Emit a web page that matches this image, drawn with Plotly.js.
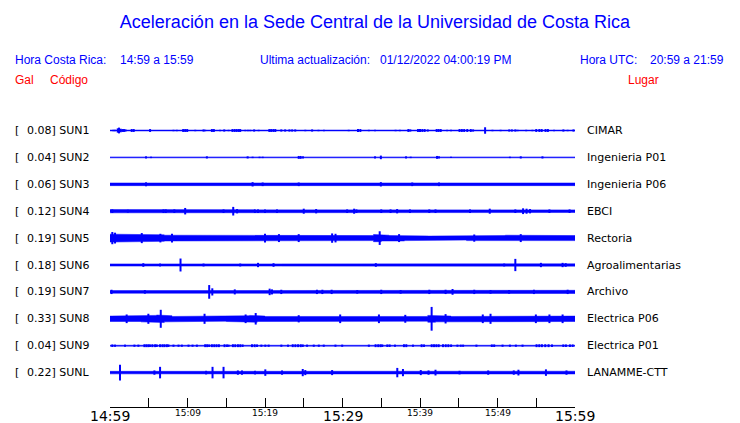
<!DOCTYPE html>
<html>
<head>
<meta charset="utf-8">
<script src="https://cdn.plot.ly/plotly-3.0.1.min.js"></script>
<style>html,body{margin:0;padding:0;background:#fff}#chart{width:740px;height:423px}</style>
</head>
<body>
<div id="chart"></div>
<script>
// ---------------- DATA ----------------
const codes = ["SUN1","SUN2","SUN3","SUN4","SUN5","SUN6","SUN7","SUN8","SUN9","SUNL"];
const places = ["CIMAR","Ingenieria P01","Ingenieria P06","EBCI","Rectoria","Agroalimentarias","Archivo","Electrica P06","Electrica P01","LANAMME-CTT"];
const peakGal = ["0.08","0.04","0.06","0.12","0.19","0.18","0.19","0.33","0.04","0.22"];
const tickMinutes = [0,5,10,15,20,25,30,35,40,45,50,55,60];
const labelMinutes = [0,10,20,30,40,50,60];
const tickLabels = ["14:59","15:09","15:19","15:29","15:39","15:49","15:59"];
const majorLabels = ["14:59","15:29","15:59"];

// background band half-amplitude (Gal), one value per minute
const env_SUN1 = [0.013,0.013,0.013,0.013,0.013,0.013,0.013,0.013,0.013,0.013, 0.013,0.013,0.013,0.013,0.013,0.013,0.013,0.013,0.013,0.013, 0.013,0.013,0.013,0.013,0.013,0.013,0.013,0.013,0.013,0.013, 0.013,0.013,0.013,0.013,0.013,0.013,0.013,0.013,0.013,0.013, 0.013,0.013,0.013,0.013,0.013,0.013,0.013,0.013,0.013,0.013, 0.013,0.013,0.013,0.013,0.013,0.013,0.013,0.013,0.013,0.013];
const env_SUN2 = [0.013,0.013,0.013,0.013,0.013,0.013,0.013,0.013,0.013,0.013, 0.013,0.013,0.013,0.013,0.013,0.013,0.013,0.013,0.013,0.013, 0.013,0.013,0.013,0.013,0.013,0.013,0.013,0.013,0.013,0.013, 0.013,0.013,0.013,0.013,0.013,0.013,0.013,0.013,0.013,0.013, 0.013,0.013,0.013,0.013,0.013,0.013,0.013,0.013,0.013,0.013, 0.013,0.013,0.013,0.013,0.013,0.013,0.013,0.013,0.013,0.013];
const env_SUN3 = [0.037,0.037,0.037,0.037,0.037,0.037,0.037,0.037,0.037,0.037, 0.037,0.037,0.037,0.037,0.037,0.037,0.037,0.037,0.037,0.037, 0.037,0.037,0.037,0.037,0.037,0.037,0.037,0.037,0.037,0.037, 0.037,0.037,0.037,0.037,0.037,0.037,0.037,0.037,0.037,0.037, 0.037,0.037,0.037,0.037,0.037,0.037,0.037,0.037,0.037,0.037, 0.037,0.037,0.037,0.037,0.037,0.037,0.037,0.037,0.037,0.037];
const env_SUN4 = [0.045,0.025,0.025,0.037,0.037,0.037,0.037,0.037,0.037,0.037, 0.037,0.037,0.037,0.037,0.037,0.037,0.037,0.037,0.037,0.037, 0.037,0.037,0.037,0.037,0.037,0.037,0.037,0.037,0.037,0.037, 0.037,0.037,0.037,0.037,0.037,0.037,0.037,0.037,0.037,0.037, 0.037,0.037,0.037,0.037,0.037,0.037,0.037,0.037,0.037,0.037, 0.037,0.037,0.037,0.045,0.04,0.037,0.037,0.037,0.037,0.037];
const env_SUN5 = [0.11,0.11,0.1,0.09,0.1,0.09,0.09,0.08,0.07,0.07, 0.07,0.07,0.07,0.07,0.06,0.07,0.07,0.08,0.08,0.08, 0.08,0.07,0.07,0.08,0.08,0.07,0.07,0.07,0.08,0.08, 0.07,0.06,0.06,0.07,0.1,0.08,0.07,0.08,0.07,0.06, 0.06,0.055,0.055,0.055,0.055,0.055,0.07,0.07,0.07,0.07, 0.07,0.08,0.07,0.07,0.07,0.06,0.06,0.06,0.07,0.07];
const env_SUN6 = [0.03,0.03,0.032,0.032,0.032,0.032,0.032,0.032,0.032,0.032, 0.032,0.032,0.032,0.032,0.032,0.032,0.032,0.032,0.032,0.032, 0.032,0.032,0.032,0.032,0.032,0.032,0.032,0.032,0.032,0.032, 0.032,0.032,0.032,0.032,0.032,0.032,0.032,0.032,0.032,0.032, 0.032,0.032,0.032,0.032,0.032,0.032,0.032,0.032,0.032,0.032, 0.032,0.032,0.032,0.032,0.032,0.032,0.032,0.032,0.032,0.032];
const env_SUN7 = [0.036,0.036,0.036,0.036,0.044,0.044,0.044,0.044,0.044,0.044, 0.044,0.044,0.044,0.044,0.044,0.044,0.044,0.044,0.044,0.044, 0.044,0.044,0.044,0.044,0.044,0.044,0.044,0.044,0.044,0.044, 0.044,0.044,0.044,0.044,0.044,0.044,0.044,0.044,0.044,0.044, 0.044,0.044,0.044,0.044,0.044,0.044,0.044,0.044,0.044,0.044, 0.044,0.044,0.044,0.044,0.044,0.044,0.044,0.044,0.044,0.044];
const env_SUN8 = [0.075,0.075,0.085,0.075,0.085,0.095,0.105,0.085,0.065,0.065, 0.065,0.075,0.085,0.075,0.065,0.075,0.085,0.085,0.095,0.075, 0.065,0.065,0.065,0.065,0.075,0.065,0.065,0.065,0.065,0.075, 0.075,0.065,0.065,0.075,0.085,0.085,0.075,0.065,0.075,0.065, 0.065,0.095,0.085,0.075,0.065,0.065,0.065,0.065,0.075,0.075, 0.075,0.065,0.075,0.075,0.075,0.075,0.075,0.075,0.075,0.075];
const env_SUN9 = [0.013,0.013,0.013,0.013,0.013,0.013,0.013,0.013,0.013,0.013, 0.013,0.013,0.013,0.013,0.013,0.013,0.013,0.013,0.013,0.013, 0.013,0.013,0.013,0.013,0.013,0.013,0.013,0.013,0.013,0.013, 0.013,0.013,0.013,0.013,0.013,0.013,0.013,0.013,0.013,0.013, 0.013,0.013,0.013,0.013,0.013,0.013,0.013,0.013,0.013,0.013, 0.013,0.013,0.013,0.013,0.013,0.013,0.013,0.013,0.013,0.013];
const env_SUNL = [0.035,0.038,0.038,0.038,0.038,0.038,0.038,0.038,0.038,0.038, 0.038,0.038,0.038,0.038,0.038,0.038,0.038,0.038,0.038,0.038, 0.038,0.038,0.038,0.038,0.038,0.038,0.038,0.038,0.038,0.038, 0.038,0.038,0.038,0.038,0.038,0.038,0.038,0.038,0.038,0.038, 0.038,0.038,0.038,0.038,0.038,0.038,0.038,0.038,0.038,0.038, 0.038,0.038,0.038,0.038,0.038,0.038,0.038,0.038,0.038,0.038];

// peaks/bursts: [minute, half-amplitude Gal]
const spk_SUN1 = [[0.43,0.02],[0.65,0.02],[1.0,0.06],[1.16,0.08],[1.38,0.05],[1.6,0.04],[1.8,0.04],[2.0,0.03],[2.8,0.04],[3.06,0.04],[5.17,0.04],[8.19,0.02],[8.62,0.02],[9.44,0.04],[9.7,0.04],[9.96,0.04],[11.0,0.02],[12.07,0.03],[12.28,0.02],[13.15,0.04],[13.4,0.04],[14.2,0.02],[14.74,0.03],[15.3,0.02],[15.8,0.04],[16.08,0.04],[16.34,0.04],[16.6,0.04],[16.8,0.04],[17.46,0.02],[17.8,0.02],[18.1,0.02],[18.6,0.03],[19.18,0.02],[20.56,0.04],[20.8,0.04],[21.08,0.04],[21.33,0.04],[22.1,0.03],[22.6,0.03],[23.15,0.03],[23.5,0.03],[23.9,0.03],[25.2,0.02],[26.08,0.03],[26.9,0.02],[27.6,0.02],[30.8,0.02],[32.0,0.04],[32.3,0.04],[33.4,0.02],[34.2,0.02],[36.85,0.02],[37.4,0.02],[38.5,0.04],[38.75,0.03],[39.74,0.04],[40.0,0.04],[40.3,0.04],[40.6,0.04],[41.0,0.03],[42.15,0.04],[42.4,0.04],[42.67,0.04],[43.5,0.02],[44.0,0.02],[45.1,0.04],[45.4,0.04],[45.7,0.04],[46.1,0.04],[46.55,0.04],[46.85,0.03],[48.4,0.09],[49.35,0.02],[50.4,0.02],[51.5,0.03],[51.85,0.03],[52.3,0.03],[52.6,0.02],[53.7,0.02],[54.5,0.02],[55.0,0.04],[55.4,0.04],[55.7,0.04],[56.2,0.04],[56.5,0.04],[57.3,0.02],[58.5,0.03],[59.05,0.02],[59.8,0.03]];
const spk_SUN2 = [[4.65,0.03],[5.3,0.02],[12.5,0.03],[17.76,0.03],[18.4,0.02],[19.3,0.02],[19.7,0.02],[24.35,0.04],[24.6,0.04],[24.9,0.03],[34.2,0.03],[34.95,0.05],[38.2,0.03],[38.8,0.02],[42.2,0.04],[42.45,0.03],[44.0,0.02],[51.6,0.02],[53.0,0.03],[55.8,0.03]];
const spk_SUN3 = [[4.65,0.055],[18.4,0.06],[19.7,0.05],[24.35,0.05],[34.95,0.06],[39.0,0.05],[42.45,0.05]];
const spk_SUN4 = [[0.3,0.05],[2.3,0.04],[6.9,0.05],[7.2,0.05],[8.3,0.05],[9.7,0.09],[14.65,0.05],[15.9,0.12],[16.4,0.06],[18.7,0.05],[19.1,0.05],[20.0,0.05],[21.55,0.05],[25.0,0.07],[26.6,0.06],[30.6,0.05],[31.5,0.07],[31.8,0.05],[35.0,0.05],[36.2,0.05],[37.05,0.06],[38.7,0.05],[41.2,0.05],[42.0,0.05],[46.45,0.05],[49.0,0.07],[52.3,0.05],[53.3,0.08],[53.75,0.07],[54.2,0.06],[56.7,0.05],[59.3,0.05]];
const spk_SUN5 = [[0.3,0.17],[0.65,0.15],[4.1,0.14],[6.5,0.12],[8.0,0.12],[20.0,0.12],[21.8,0.11],[24.35,0.11],[28.66,0.13],[29.1,0.12],[34.8,0.19],[37.3,0.11],[47.0,0.1],[53.0,0.11]];
const spk_SUN6 = [[4.3,0.05],[6.46,0.04],[9.1,0.18],[12.07,0.04],[16.8,0.04],[19.1,0.06],[21.1,0.05],[34.3,0.05],[50.86,0.04],[52.3,0.17],[55.6,0.06],[58.4,0.06],[58.8,0.05]];
const spk_SUN7 = [[0.2,0.06],[4.5,0.05],[12.8,0.19],[13.2,0.1],[16.1,0.07],[20.6,0.09],[20.9,0.07],[22.1,0.06],[26.7,0.06],[27.4,0.06],[28.6,0.06],[31.9,0.05],[35.0,0.06],[37.5,0.05],[41.2,0.06],[43.3,0.06],[44.2,0.08],[47.0,0.06],[49.1,0.05],[51.5,0.05],[54.7,0.06],[59.05,0.06]];
const spk_SUN8 = [[2.15,0.12],[4.95,0.14],[6.55,0.25],[12.2,0.14],[17.5,0.12],[18.8,0.16],[24.35,0.1],[29.7,0.12],[34.7,0.12],[38.1,0.11],[41.5,0.33],[43.3,0.13],[48.1,0.12],[49.1,0.14],[54.95,0.12],[56.7,0.12],[58.4,0.12]];
const spk_SUN9 = [[0.30,0.035],[0.65,0.03],[1.94,0.03],[3.15,0.03],[3.66,0.03],[4.44,0.04],[4.70,0.04],[4.96,0.04],[5.17,0.035],[5.47,0.04],[5.82,0.04],[6.03,0.035],[6.46,0.04],[6.77,0.04],[7.03,0.04],[7.33,0.04],[7.54,0.035],[8.19,0.03],[8.84,0.03],[9.27,0.03],[10.13,0.03],[10.65,0.03],[11.21,0.03],[12.28,0.04],[12.54,0.04],[12.8,0.035],[13.15,0.04],[13.45,0.04],[13.75,0.04],[14.05,0.04],[14.78,0.04],[15.09,0.035],[15.3,0.03],[15.86,0.04],[16.16,0.04],[16.51,0.04],[16.81,0.04],[17.11,0.035],[18.32,0.04],[18.66,0.04],[18.97,0.035],[19.53,0.03],[20.04,0.03],[20.47,0.03],[22.11,0.03],[22.97,0.03],[23.58,0.04],[23.92,0.04],[24.27,0.04],[24.61,0.04],[24.87,0.035],[25.43,0.03],[26.29,0.03],[26.94,0.03],[27.58,0.03],[29.09,0.03],[29.96,0.03],[33.4,0.03],[34.27,0.04],[34.61,0.04],[34.91,0.04],[35.13,0.035],[35.78,0.035],[36.08,0.035],[36.77,0.03],[37.93,0.04],[38.23,0.04],[39.09,0.03],[40.21,0.04],[40.52,0.035],[41.51,0.04],[41.81,0.04],[42.11,0.04],[42.41,0.04],[42.97,0.04],[43.32,0.04],[43.66,0.04],[44.01,0.035],[44.83,0.03],[45.26,0.03],[45.56,0.03],[47.28,0.03],[49.27,0.035],[49.57,0.035],[50.65,0.03],[51.6,0.03],[52.37,0.03],[53.23,0.03],[55.04,0.04],[55.39,0.04],[55.73,0.04],[56.16,0.04],[56.59,0.04],[57.03,0.035],[58.49,0.035],[58.83,0.035],[59.35,0.035],[59.7,0.035]];
const spk_SUNL = [[1.29,0.22],[5.73,0.06],[6.46,0.16],[12.4,0.05],[13.23,0.16],[14.65,0.16],[16.5,0.06],[17.03,0.06],[18.7,0.05],[20.04,0.09],[22.2,0.06],[24.87,0.1],[25.2,0.07],[28.66,0.07],[37.07,0.13],[37.8,0.1],[40.1,0.07],[41.1,0.06],[42.0,0.08],[45.1,0.05],[48.8,0.06],[52.1,0.06],[52.7,0.08],[56.25,0.09],[58.9,0.06]];

const envs = [env_SUN1,env_SUN2,env_SUN3,env_SUN4,env_SUN5,env_SUN6,env_SUN7,env_SUN8,env_SUN9,env_SUNL];
const spks = [spk_SUN1,spk_SUN2,spk_SUN3,spk_SUN4,spk_SUN5,spk_SUN6,spk_SUN7,spk_SUN8,spk_SUN9,spk_SUNL];

// ---------------- LAYOUT CONSTANTS ----------------
const W = 740, H = 423, ML = 110, MR = 165, MT = 115, MB = 16;
const PW = W - ML - MR, PH = H - MT - MB;
const K = 36;            // pixels per Gal
const ROW0 = 130.5, ROWGAP = 26.9;
const BLUE = '#0000ff', RED = '#ff0000';
const TXTOFF = 1.5;      // annotation box inset compensation
const px2x = p => (p - TXTOFF - ML) / PW;
const py2y = p => (H - MB - p) / PH;

const traces = [];
const annotations = [];

codes.forEach((code, i) => {
  const c = -(ROW0 + ROWGAP * i);
  const env = envs[i];
  const xs = [], ys = [];
  for (let m = 0; m < env.length; m++) { xs.push(m, m + 1); ys.push(c + env[m] * K, c + env[m] * K); }
  for (let m = env.length - 1; m >= 0; m--) { xs.push(m + 1, m); ys.push(c - env[m] * K, c - env[m] * K); }
  traces.push({x: xs, y: ys, mode: 'lines', fill: 'toself', fillcolor: BLUE,
               line: {width: 0.5, color: BLUE}, hoverinfo: 'skip'});
  const sx = [], sy = [];
  spks[i].forEach(([t, a]) => { sx.push(t, t, null); sy.push(c - a * K, c + a * K, null); });
  traces.push({x: sx, y: sy, mode: 'lines', line: {width: 2, color: BLUE}, hoverinfo: 'skip', connectgaps: false});

  const py = ROW0 + ROWGAP * i;
  annotations.push({xref: 'paper', yref: 'paper', x: px2x(15), y: py2y(py), xanchor: 'left', yanchor: 'middle',
    text: '[', showarrow: false, borderpad: 0, font: {family: 'DejaVu Sans', size: 11, color: '#000'}});
  annotations.push({xref: 'paper', yref: 'paper', x: px2x(27.5), y: py2y(py), xanchor: 'left', yanchor: 'middle',
    text: peakGal[i] + '] ' + code, showarrow: false, borderpad: 0, font: {family: 'DejaVu Sans', size: 11, color: '#000'}});
  annotations.push({xref: 'paper', yref: 'paper', x: px2x(587), y: py2y(py), xanchor: 'left', yanchor: 'middle',
    text: places[i], showarrow: false, borderpad: 0, font: {family: 'DejaVu Sans', size: 11, color: '#000'}});
});

labelMinutes.forEach((m, j) => {
  const lab = tickLabels[j];
  const big = majorLabels.includes(lab);
  annotations.push({xref: 'x', yref: 'paper', x: m, y: py2y(big ? 415.5 : 413), xanchor: 'center', yanchor: 'middle',
    text: lab, showarrow: false, borderpad: 0, font: {family: 'DejaVu Sans', size: big ? 14 : 9, color: '#000'}});
});

function hdr(text, px, py, color) {
  annotations.push({xref: 'paper', yref: 'paper', x: px2x(px), y: py2y(py), xanchor: 'left', yanchor: 'middle',
    text: text, showarrow: false, borderpad: 0, font: {family: 'Liberation Sans', size: 12, color: color}});
}
hdr('Hora Costa Rica:', 15, 60, BLUE);
hdr('14:59 a 15:59', 120, 60, BLUE);
hdr('Ultima actualización:', 260, 60, BLUE);
hdr('01/12/2022 04:00:19 PM', 380, 60, BLUE);
hdr('Hora UTC:', 580, 60, BLUE);
hdr('20:59 a 21:59', 650, 60, BLUE);
hdr('Gal', 15, 80, RED);
hdr('Código', 50, 80, RED);
hdr('Lugar', 628, 80, RED);

const layout = {
  width: W, height: H,
  margin: {l: ML, r: MR, t: MT, b: MB, pad: 0},
  paper_bgcolor: '#fff', plot_bgcolor: '#fff',
  showlegend: false, hovermode: false,
  title: {text: 'Aceleración en la Sede Central de la Universidad de Costa Rica',
          x: 375 / W, xanchor: 'center', xref: 'container',
          y: 1 - 22 / H, yanchor: 'middle', yref: 'container',
          font: {family: 'Liberation Sans', size: 18, color: BLUE}},
  xaxis: {range: [0, 60], tickvals: tickMinutes, ticks: 'inside', ticklen: 9, tickwidth: 1, tickcolor: '#000',
          showline: true, linecolor: '#000', linewidth: 1, showgrid: false, zeroline: false,
          showticklabels: false, fixedrange: true},
  yaxis: {range: [-(H - MB), -MT], visible: false, fixedrange: true, showgrid: false, zeroline: false},
  annotations: annotations
};

Plotly.newPlot('chart', traces, layout, {staticPlot: true, displayModeBar: false});
</script>
</body>
</html>
